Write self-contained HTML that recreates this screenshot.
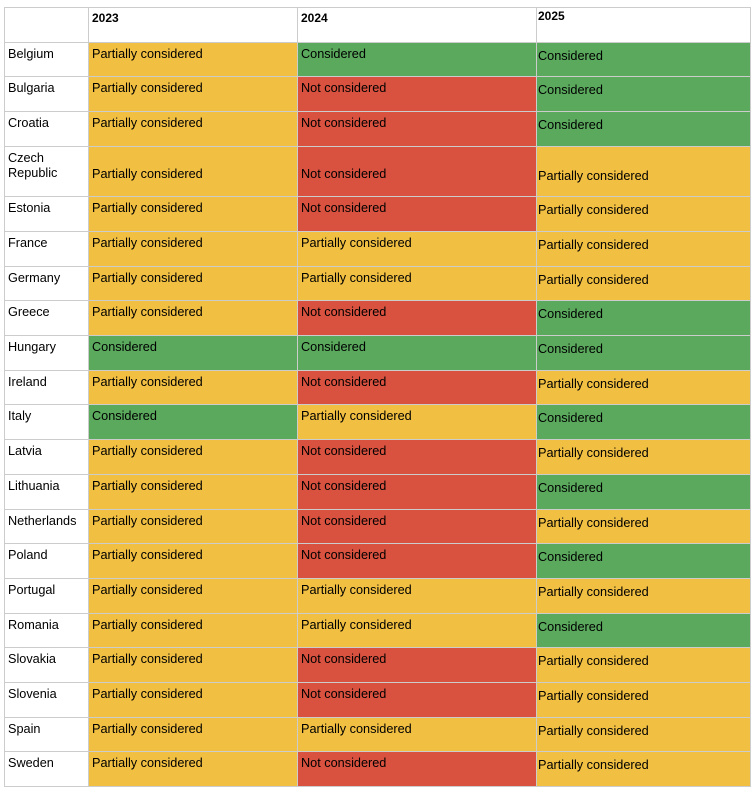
<!DOCTYPE html>
<html><head><meta charset="utf-8"><style>
body{margin:0;background:#fff;width:754px;height:788px;overflow:hidden;font-family:"Liberation Sans",Arial,sans-serif;font-size:12.7px;color:#000}
table{position:absolute;left:4px;top:7px;border-collapse:collapse;table-layout:fixed}
td{border:1px solid #ccc;vertical-align:top;padding:4px 3px 0 3px;line-height:15px;white-space:nowrap;overflow:hidden}
td:first-child{white-space:normal}
td:last-child{padding-top:6px;padding-left:1px}
th{border:1px solid #ccc;vertical-align:top;text-align:left;padding:3px 3px 0 3px;font-size:12px;line-height:15px}
th:last-child{padding-top:1px;padding-left:1px}
.P{background:#f1bf42}.C{background:#5aa95d}.N{background:#d9513f}
tr.cz td{padding-top:20px}tr.cz td:first-child{padding-top:4px}tr.cz td:last-child{padding-top:22px}
</style></head><body>
<table>
<colgroup><col style="width:84px"><col style="width:209px"><col style="width:239px"><col style="width:214px"></colgroup>
<tr style="height:35px"><th></th><th>2023</th><th>2024</th><th>2025</th></tr>
<tr style="height:34px"><td>Belgium</td><td class="P">Partially considered</td><td class="C">Considered</td><td class="C">Considered</td></tr>
<tr style="height:35px"><td>Bulgaria</td><td class="P">Partially considered</td><td class="N">Not considered</td><td class="C">Considered</td></tr>
<tr style="height:35px"><td>Croatia</td><td class="P">Partially considered</td><td class="N">Not considered</td><td class="C">Considered</td></tr>
<tr class="cz" style="height:50px"><td>Czech Republic</td><td class="P">Partially considered</td><td class="N">Not considered</td><td class="P">Partially considered</td></tr>
<tr style="height:35px"><td>Estonia</td><td class="P">Partially considered</td><td class="N">Not considered</td><td class="P">Partially considered</td></tr>
<tr style="height:35px"><td>France</td><td class="P">Partially considered</td><td class="P">Partially considered</td><td class="P">Partially considered</td></tr>
<tr style="height:34px"><td>Germany</td><td class="P">Partially considered</td><td class="P">Partially considered</td><td class="P">Partially considered</td></tr>
<tr style="height:35px"><td>Greece</td><td class="P">Partially considered</td><td class="N">Not considered</td><td class="C">Considered</td></tr>
<tr style="height:35px"><td>Hungary</td><td class="C">Considered</td><td class="C">Considered</td><td class="C">Considered</td></tr>
<tr style="height:34px"><td>Ireland</td><td class="P">Partially considered</td><td class="N">Not considered</td><td class="P">Partially considered</td></tr>
<tr style="height:35px"><td>Italy</td><td class="C">Considered</td><td class="P">Partially considered</td><td class="C">Considered</td></tr>
<tr style="height:35px"><td>Latvia</td><td class="P">Partially considered</td><td class="N">Not considered</td><td class="P">Partially considered</td></tr>
<tr style="height:35px"><td>Lithuania</td><td class="P">Partially considered</td><td class="N">Not considered</td><td class="C">Considered</td></tr>
<tr style="height:34px"><td>Netherlands</td><td class="P">Partially considered</td><td class="N">Not considered</td><td class="P">Partially considered</td></tr>
<tr style="height:35px"><td>Poland</td><td class="P">Partially considered</td><td class="N">Not considered</td><td class="C">Considered</td></tr>
<tr style="height:35px"><td>Portugal</td><td class="P">Partially considered</td><td class="P">Partially considered</td><td class="P">Partially considered</td></tr>
<tr style="height:34px"><td>Romania</td><td class="P">Partially considered</td><td class="P">Partially considered</td><td class="C">Considered</td></tr>
<tr style="height:35px"><td>Slovakia</td><td class="P">Partially considered</td><td class="N">Not considered</td><td class="P">Partially considered</td></tr>
<tr style="height:35px"><td>Slovenia</td><td class="P">Partially considered</td><td class="N">Not considered</td><td class="P">Partially considered</td></tr>
<tr style="height:34px"><td>Spain</td><td class="P">Partially considered</td><td class="P">Partially considered</td><td class="P">Partially considered</td></tr>
<tr style="height:35px"><td>Sweden</td><td class="P">Partially considered</td><td class="N">Not considered</td><td class="P">Partially considered</td></tr>
</table>
</body></html>
